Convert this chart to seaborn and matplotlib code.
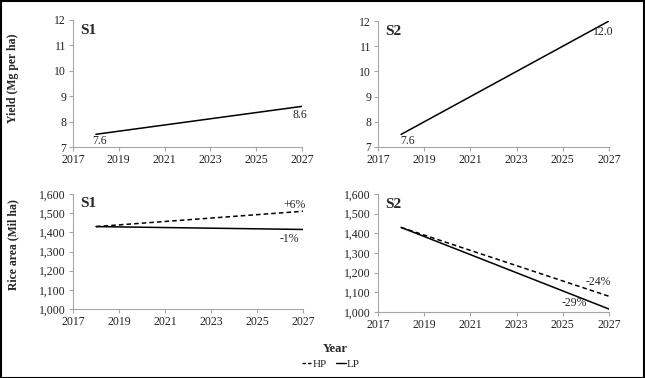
import matplotlib
matplotlib.use("Agg")
import matplotlib.pyplot as plt
import seaborn as sns
import pandas as pd
from matplotlib.ticker import FuncFormatter
from matplotlib.lines import Line2D
from matplotlib.patches import Rectangle

sns.set_theme(style="white")
plt.rcParams['font.family'] = ['Liberation Serif', 'DejaVu Serif']

# Data
years = [2018, 2027]
yield_s1 = [7.5, 8.6]
yield_s2 = [7.5, 12.0]
area_s1_hp = [1430, 1510]
area_s1_lp = [1430, 1415]
area_s2_hp = [1430, 1080]
area_s2_lp = [1430, 1015]
x_ticks = [2017, 2019, 2021, 2023, 2025, 2027]
yield_ticks = [7, 8, 9, 10, 11, 12]
area_ticks = [1000, 1100, 1200, 1300, 1400, 1500, 1600]

W, H = 645, 378
fig = plt.figure(figsize=(W / 100, H / 100), dpi=100)

def make_ax(l, r, t, b):
    return fig.add_axes([l / W, 1 - b / H, (r - l) / W, (b - t) / H])

def style(ax, yticks, fmt=None):
    ax.set_xlim(2017, 2027)
    ax.set_xticks(x_ticks)
    ax.set_ylim(yticks[0], yticks[-1])
    ax.set_yticks(yticks)
    if fmt:
        ax.yaxis.set_major_formatter(FuncFormatter(fmt))
    for s in ['top', 'right']:
        ax.spines[s].set_visible(False)
    for s in ['left', 'bottom']:
        ax.spines[s].set_color('#a6a6a6')
        ax.spines[s].set_linewidth(0.8)
    ax.tick_params(axis='both', which='major', labelsize=8.5, length=3,
                   width=0.8, color='#a6a6a6', direction='out', pad=2,
                   labelcolor='#222222', bottom=True, left=True)
    ax.set_xlabel('')
    ax.set_ylabel('')
    if ax.get_legend():
        ax.get_legend().remove()

comma = lambda v, p: f"{int(v):,}"

def note(ax, txt, xy, off):
    ax.annotate(txt, xy, xytext=off, textcoords='offset points',
                ha='center', va='center', fontsize=8.5)

# Top-left: yield S1
ax1 = make_ax(73, 302, 20, 147)
df1 = pd.DataFrame({'Year': years, 'Yield': yield_s1})
sns.lineplot(data=df1, x='Year', y='Yield', ax=ax1, color='black', lw=1.1)
style(ax1, yield_ticks)
ax1.text(0.03, 0.97, 'S1', transform=ax1.transAxes, fontsize=11, fontweight='bold', va='top')
note(ax1, '7.6', (years[0], yield_s1[0]), (2.5, -5))
note(ax1, '8.6', (years[-1], yield_s1[-1]), (-1.5, -6))

# Top-right: yield S2
ax2 = make_ax(378, 609, 21, 147)
df2 = pd.DataFrame({'Year': years, 'Yield': yield_s2})
sns.lineplot(data=df2, x='Year', y='Yield', ax=ax2, color='black', lw=1.1)
style(ax2, yield_ticks)
ax2.text(0.03, 0.97, 'S2', transform=ax2.transAxes, fontsize=11, fontweight='bold', va='top')
note(ax2, '7.6', (years[0], yield_s2[0]), (5, -5))
note(ax2, '12.0', (years[-1], yield_s2[-1]), (-4, -8))

# Bottom-left: area S1
ax3 = make_ax(73, 303, 194, 309)
df3 = pd.DataFrame({'Year': years * 2, 'Area': area_s1_hp + area_s1_lp,
                    'Scenario': ['HP'] * 2 + ['LP'] * 2})
sns.lineplot(data=df3, x='Year', y='Area', style='Scenario', ax=ax3, color='black', lw=1.1,
             dashes={'HP': (3, 2), 'LP': ''})
style(ax3, area_ticks, comma)
ax3.text(0.03, 0.97, 'S1', transform=ax3.transAxes, fontsize=11, fontweight='bold', va='top')
note(ax3, '+6%', (years[-1], area_s1_hp[-1]), (-6, 4.5))
note(ax3, '-1%', (years[-1], area_s1_lp[-1]), (-10, -7))

# Bottom-right: area S2
ax4 = make_ax(378, 609, 194, 312)
df4 = pd.DataFrame({'Year': years * 2, 'Area': area_s2_hp + area_s2_lp,
                    'Scenario': ['HP'] * 2 + ['LP'] * 2})
sns.lineplot(data=df4, x='Year', y='Area', style='Scenario', ax=ax4, color='black', lw=1.1,
             dashes={'HP': (3, 2), 'LP': ''})
style(ax4, area_ticks, comma)
ax4.text(0.03, 0.97, 'S2', transform=ax4.transAxes, fontsize=11, fontweight='bold', va='top')
note(ax4, '-24%', (years[-1], area_s2_hp[-1]), (-8, 10))
note(ax4, '-29%', (years[-1], area_s2_lp[-1]), (-25, 4))

# Axis titles
fig.text(13 / W, 1 - 78 / H, 'Yield (Mg per ha)', rotation=90, ha='center', va='center',
         fontsize=8.5, fontweight='bold')
fig.text(13 / W, 1 - 245 / H, 'Rice area (Mil ha)', rotation=90, ha='center', va='center',
         fontsize=8.5, fontweight='bold')
fig.text(335 / W, 1 - 349 / H, 'Year', ha='center', va='center', fontsize=9, fontweight='bold')

handles = [Line2D([0], [0], color='black', lw=1.0, dashes=(2.5, 1.5)),
           Line2D([0], [0], color='black', lw=1.0)]
fig.legend(handles, ['HP', 'LP'], loc='center', bbox_to_anchor=(331 / W, 1 - 364 / H),
           ncol=2, frameon=False, fontsize=8, handlelength=0.9, handletextpad=0.1,
           columnspacing=0.8)

# Border
fig.patches.append(Rectangle((0.001, 0.001), 0.997, 0.996, transform=fig.transFigure,
                             fill=False, edgecolor='black', lw=1.5))

fig.savefig('out.png', dpi=100)
